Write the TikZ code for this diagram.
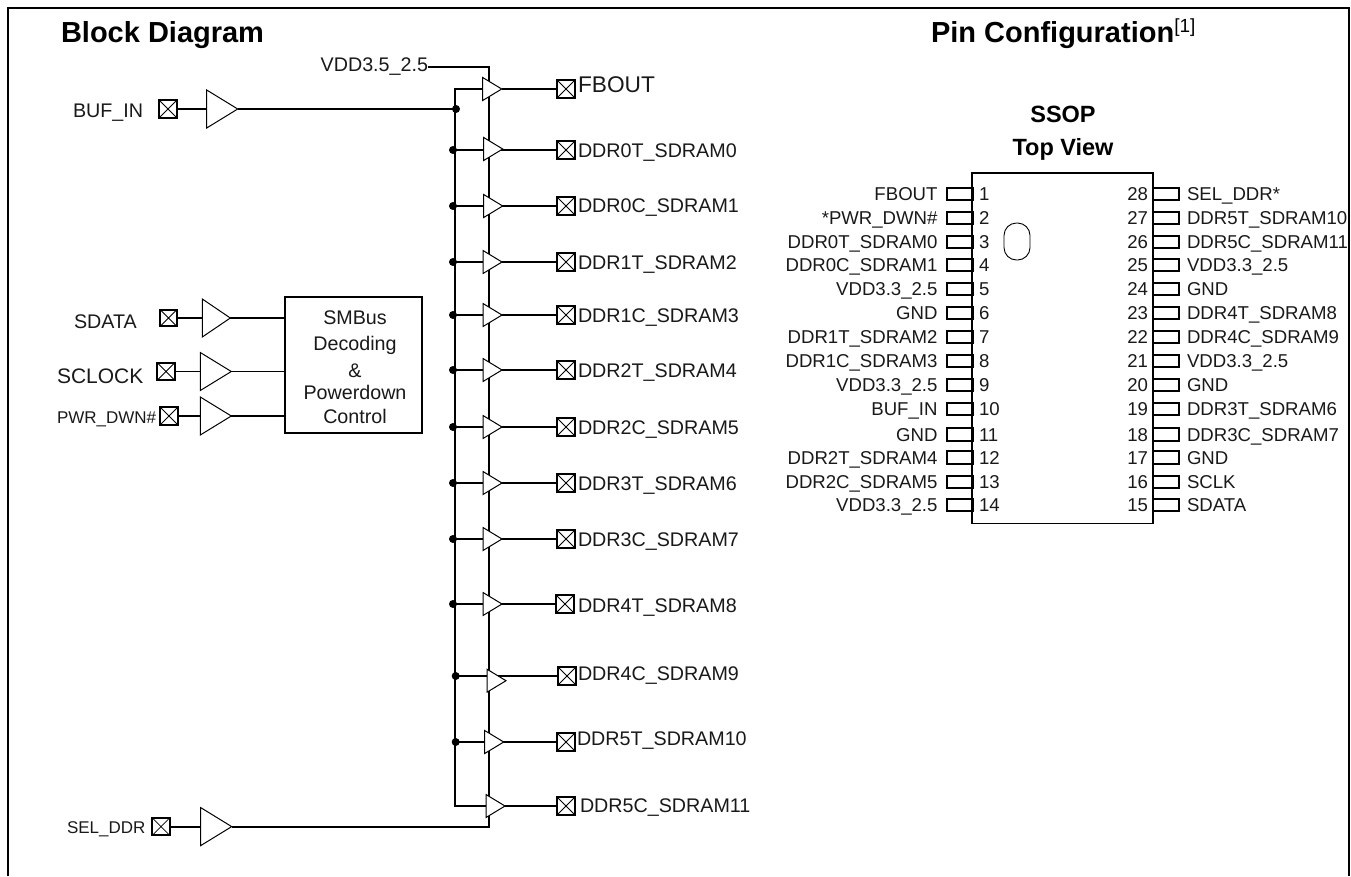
\documentclass[tikz,border=0pt]{standalone}
\usepackage{fontspec}
\setmainfont{Liberation Sans}
\usetikzlibrary{shapes.geometric,backgrounds}
\tikzset{
  x=1pt,y=-1pt,
  wire/.style={line width=1.8pt},
  thinwire/.style={line width=1.1pt},
  buf/.style={draw,fill=white,line width=1pt,shape=isosceles triangle,isosceles triangle stretches,inner sep=0pt,outer sep=0pt,anchor=lower side},
  smallbuf/.style={buf,minimum width=23pt,minimum height=19pt},
  bigbuf/.style={buf,minimum width=38pt,minimum height=31pt},
  pad/.style={draw,fill=white,line width=1.9pt,minimum size=17.5pt,inner sep=0pt,outer sep=0pt,
    path picture={\draw[line width=.8pt] (path picture bounding box.north west)--(path picture bounding box.south east)
      (path picture bounding box.north east)--(path picture bounding box.south west);}},
  dot/.style={circle,fill=black,minimum size=8pt,inner sep=0pt,outer sep=0pt},
  lbl/.style={font=\fontsize{19.7}{22}\selectfont,inner sep=0pt,outer sep=0pt,text=black!90},
  plbl/.style={font=\fontsize{18.6}{22}\selectfont,inner sep=0pt,outer sep=0pt,text=black!90},
  title/.style={font=\fontsize{29}{32}\bfseries\selectfont,inner sep=0pt,outer sep=0pt,text=black},
  subtitle/.style={lbl,anchor=base,font=\fontsize{23.5}{26}\bfseries\selectfont,text=black},
  pinbox/.style={draw,fill=white,line width=1.7pt,minimum width=26pt,minimum height=12.5pt,inner sep=0pt,outer sep=0pt},
}
\pgfdeclarelayer{background}
\begin{document}
\begin{tikzpicture}
\useasboundingbox (0,0) rectangle (1351,876);
% frame (open at the bottom edge)
\coordinate (fbl) at (8,876);
\coordinate (ftl) at (8,8);
\coordinate (ftr) at (1349,8);
\coordinate (fbr) at (1349,876);
\draw[line width=1.8pt] (fbl)--(ftl)--(ftr)--(fbr);
% titles
\node[title,anchor=base west] (tBlock) at (61,42) {Block Diagram};
\node[title,anchor=base west] (tPin) at (931,42) {Pin Configuration\textsuperscript{\normalfont\fontsize{19}{20}\selectfont [1]}};
% input stage
\node[pad] (pBuf) at (168,109) {};
\node[bigbuf] (bBuf) at (206.7,109) {};
\node[pad] (pSel) at (161,826.6) {};
\node[bigbuf] (bSel) at (200.7,826.6) {};
\node[pad,minimum size=16.5pt] (pSdata) at (168.5,318) {};
\node[buf,minimum width=38pt,minimum height=28pt] (bSdata) at (202.3,318) {};
\node[pad] (pSclk) at (166,371.5) {};
\node[bigbuf] (bSclk) at (200.3,371.5) {};
\node[pad] (pPwr) at (169,416) {};
\node[bigbuf] (bPwr) at (200.3,416) {};
\node[draw,line width=1.8pt,fill=white,minimum width=137pt,minimum height=136.5pt,inner sep=0pt,outer sep=0pt,anchor=north west] (ctl) at (285,296.7) {};
\node[lbl,anchor=base] (c1) at (355,324) {SMBus};
\node[lbl,anchor=base] (c2) at (355,350) {Decoding};
\node[lbl,anchor=base] (c3) at (355,377) {\&};
\node[lbl,anchor=base] (c4) at (355,399) {Powerdown};
\node[lbl,anchor=base] (c5) at (355,423) {Control};
\node[lbl,anchor=base west] (lBuf) at (73,117) {BUF\_IN};
\node[lbl,anchor=base west] (lSdata) at (74,328) {SDATA};
\node[lbl,anchor=base west,font=\fontsize{21}{24}\selectfont] (lSclk) at (57,383) {SCLOCK};
\node[lbl,anchor=base west,font=\fontsize{17}{20}\selectfont] (lPwr) at (57,423) {PWR\_DWN\#};
\node[lbl,anchor=base west,font=\fontsize{17}{20}\selectfont] (lSel) at (67,833) {SEL\_DDR};
\node[lbl,anchor=base east] (lVdd) at (428,71) {VDD3.5\_2.5};
\coordinate (vtop) at (489,67);
\coordinate (vbot) at (489,827);
\coordinate (busT) at (455,89);
\coordinate (busB) at (455,806);
\node[dot] (dBuf) at (456,109) {};
% FBOUT
\node[smallbuf] (bF) at (482.7,89) {};
\node[pad] (pF) at (566,89) {};
\node[lbl,anchor=base west,font=\fontsize{22.7}{26}\selectfont] (lF) at (578,92) {FBOUT};
% output rows: key/line y/buffer x/buffer y/pad x/label x/label baseline/dot x/text
\foreach \k/\ly/\bx/\by/\px/\lx/\lb/\dx/\t in {
  a/150/483.7/149/566/578/157/453/DDR0T\_SDRAM0,
  b/206/483.7/206/566/578/212/453/DDR0C\_SDRAM1,
  c/262/483/262/566/578/269/453/DDR1T\_SDRAM2,
  d/315/483/315/566/578/322/453/DDR1C\_SDRAM3,
  e/370/483/370/566/578/377/453/DDR2T\_SDRAM4,
  f/427/483/427/566/578/434/453/DDR2C\_SDRAM5,
  g/483/483/483/566/578/490/453/DDR3T\_SDRAM6,
  h/539/483/539/566/578/546/453/DDR3C\_SDRAM7,
  i/604/483/604/565/578/612/453/DDR4T\_SDRAM8,
  j/676/487/680.7/567/578/680/455.7/DDR4C\_SDRAM9,
  k/742/484.7/742/566/577/745/455.7/DDR5T\_SDRAM10}
{
  \node[smallbuf] (b\k) at (\bx,\by) {};
  \node[pad] (p\k) at (\px,\ly) {};
  \node[lbl,anchor=base west] (l\k) at (\lx,\lb) {\t};
  \node[dot] (d\k) at (\dx,\ly) {};
  \begin{pgfonlayer}{background}
    \draw[wire] (d\k.center) -- (d\k.center -| b\k.lower side);
    \draw[wire] (b\k.lower side |- p\k.west) -- (p\k.west);
  \end{pgfonlayer}
}
\node[smallbuf] (bl) at (486,806) {};
\node[pad] (pl) at (566,806) {};
\node[lbl,anchor=base west] (ll) at (580,812.5) {DDR5C\_SDRAM11};
\begin{pgfonlayer}{background}
  \draw[wire] (pBuf) -- (bBuf.lower side);
  \draw[wire] (bBuf.apex) -- (dBuf.center);
  \draw[wire] (pSel) -- (bSel.lower side);
  \draw[wire] (bSel.apex) -- (bSel.apex -| vbot) -- (vtop) -- (lVdd.base east |- vtop);
  \draw[wire] (pSdata) -- (bSdata.lower side);
  \draw[wire] (bSdata.apex) -- (bSdata.apex -| ctl.west);
  \draw[thinwire] (pSclk) -- (bSclk.lower side);
  \draw[thinwire] (bSclk.apex) -- (bSclk.apex -| ctl.west);
  \draw[wire] (pPwr) -- (bPwr.lower side);
  \draw[wire] (bPwr.apex) -- (bPwr.apex -| ctl.west);
  \draw[wire] (bF.lower side) -- (busT) -- (busB) -- (bl.lower side);
  \draw[wire] (bF.apex) -- (pF.west);
  \draw[wire] (bl.apex) -- (pl.west);
\end{pgfonlayer}
% pin configuration
\node[subtitle] (tS) at (1063,122) {SSOP};
\node[subtitle] (tT) at (1063,155) {Top View};
\foreach \n/\yy/\t in {1/194/FBOUT,2/218/*PWR\_DWN\#,3/242/DDR0T\_SDRAM0,4/265/DDR0C\_SDRAM1,5/289/VDD3.3\_2.5,6/313/GND,7/337/DDR1T\_SDRAM2,8/361/DDR1C\_SDRAM3,9/385/VDD3.3\_2.5,10/409/BUF\_IN,11/434.5/GND,12/457.5/DDR2T\_SDRAM4,13/482/DDR2C\_SDRAM5,14/505/VDD3.3\_2.5}
{
  \node[pinbox,anchor=west] (pin\n) at (946.7,\yy) {};
  \node[plbl,anchor=base east] (name\n) at (937.5,\yy+6.5) {\t};
  \node[plbl,anchor=base west] (num\n) at (979,\yy+6.5) {\n};
}
\foreach \n/\yy/\t in {28/194/SEL\_DDR*,27/218/DDR5T\_SDRAM10,26/242/DDR5C\_SDRAM11,25/265/VDD3.3\_2.5,24/289/GND,23/313/DDR4T\_SDRAM8,22/337/DDR4C\_SDRAM9,21/361/VDD3.3\_2.5,20/385/GND,19/409/DDR3T\_SDRAM6,18/434.5/DDR3C\_SDRAM7,17/457.5/GND,16/482/SCLK,15/505/SDATA}
{
  \node[pinbox,anchor=east] (pin\n) at (1179,\yy) {};
  \node[plbl,anchor=base west] (name\n) at (1187,\yy+6.5) {\t};
  \node[plbl,anchor=base east] (num\n) at (1148,\yy+6.5) {\n};
}
\node[draw,line width=1.8pt,minimum width=181pt,minimum height=350.5pt,inner sep=0pt,outer sep=0pt,anchor=north west] (chip) at (972,173) {};
\node[draw,line width=.9pt,rounded corners=12.5pt,minimum width=26pt,minimum height=37pt,inner sep=0pt,outer sep=0pt] (notch) at (1017,241.5) {};
\end{tikzpicture}
\end{document}
